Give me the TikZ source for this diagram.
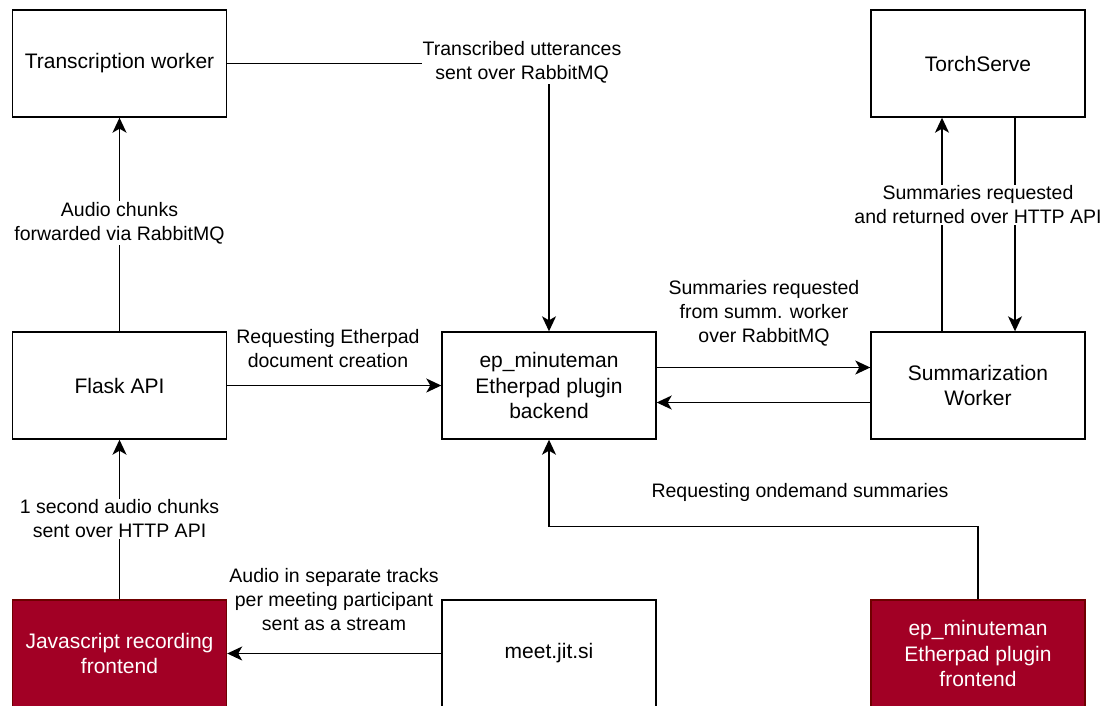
\documentclass[tikz,border=0pt]{standalone}
\usepackage{fontspec}
\setmainfont{Liberation Sans}
\usetikzlibrary{arrows.meta}
\definecolor{dred}{HTML}{A20025}
\definecolor{dredline}{HTML}{6F0000}
\begin{document}
\begin{tikzpicture}[x=1pt,y=-1pt,
  box/.style={draw=black, line width=1.4pt, minimum width=214pt, minimum height=107pt, inner sep=2pt, align=center, font=\fontsize{21}{25.5}\selectfont, fill=white},
  redbox/.style={box, fill=dred, draw=dredline, text=white},
  conn/.style={line width=1.4pt, -{Stealth[length=15pt,width=14pt,inset=4pt]}},
  lbl/.style={inner sep=1pt, align=center, font=\fontsize{19.5}{24}\selectfont},
  lblw/.style={lbl, fill=white}]
\useasboundingbox (0,0) rectangle (1111,705);
\node[box] (tw) at (119.5,63.5) {Transcription worker};
\node[box] (ts) at (978,63.5) {TorchServe};
\node[box] (fa) at (119.5,385.5) {Flask API};
\node[box] (be) at (549,385.5) {ep\_minuteman\\Etherpad plugin\\backend};
\node[box] (sw) at (978,385.5) {Summarization\\Worker};
\node[redbox] (js) at (119.5,653.5) {Javascript recording\\frontend};
\node[box] (mj) at (549,653.5) {meet.jit.si};
\node[redbox] (fe) at (978,653.5) {ep\_minuteman\\Etherpad plugin\\frontend};
% connectors
\draw[conn] (tw.east) -| (be.north);
\node[lblw] (l1) at (522,62) {Transcribed utterances\\sent over RabbitMQ};
\draw[conn] (fa.north) -- (tw.south);
\node[lblw] (l2) at (119.5,223) {Audio chunks\\forwarded via RabbitMQ};
\draw[conn] (js.north) -- (fa.south);
\node[lblw] (l3) at (119.5,519) {1 second audio chunks\\sent over HTTP API};
\draw[conn] (fa.east) -- (be.west);
\node[lbl] (l4) at (328,349) {Requesting Etherpad\\document creation};
\draw[conn] ([yshift=18pt]be.east) -- ([yshift=18pt]sw.west);
\node[lbl] (l5) at (764,313) {Summaries requested\\from summ. worker\\over RabbitMQ};
\draw[conn] ([yshift=-17pt]sw.west) -- ([yshift=-17pt]be.east);
\draw[conn] ([xshift=-36pt]sw.north) -- ([xshift=-36pt]ts.south);
\draw[conn] ([xshift=37pt]ts.south) -- ([xshift=37pt]sw.north);
\node[lblw] (l6) at (978,205) {Summaries requested\\and returned over HTTP API};
\draw[conn] (mj.west) -- (js.east);
\node[lbl] (l7) at (334,600) {Audio in separate tracks\\per meeting participant\\sent as a stream};
\draw[conn] (fe.north) -- ++(0,-73) -| (be.south);
\node[lbl] (l8) at (800,492) {Requesting ondemand summaries};
\end{tikzpicture}
\end{document}
